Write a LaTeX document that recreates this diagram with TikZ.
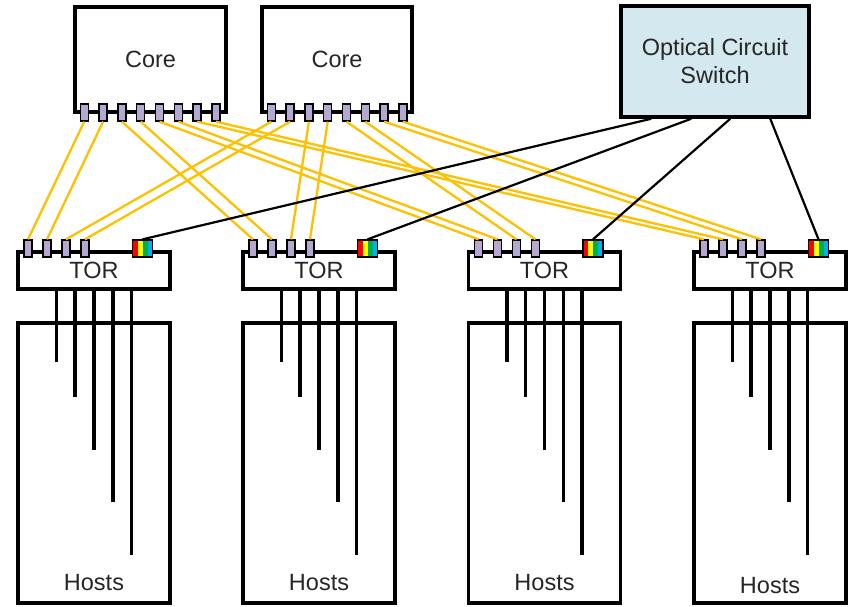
\documentclass[tikz,border=0pt]{standalone}
\usepackage{fontspec}
\setmainfont{Liberation Sans}
\usetikzlibrary{calc}
\definecolor{portfill}{HTML}{B4A7D0}
\definecolor{ocsfill}{HTML}{D3E9EF}
\definecolor{wire}{HTML}{FFC000}
\definecolor{txt}{HTML}{262626}
\definecolor{rbred}{HTML}{FF0000}
\definecolor{rbyel}{HTML}{FFFF00}
\definecolor{rbgrn}{HTML}{00B050}
\definecolor{rbblu}{HTML}{00B0F0}
\begin{document}
\begin{tikzpicture}[x=1pt,y=-1pt,
  box/.style={draw,line width=3.5pt,rectangle,inner sep=0pt},
  port/.style={draw,line width=1.3pt,fill=portfill,rectangle,minimum width=8pt,minimum height=17pt,inner sep=0pt},
  rainbow/.style={draw,line width=1.3pt,rectangle,minimum width=20pt,minimum height=17pt,inner sep=0pt,
    path picture={
      \foreach \c [count=\i from 0] in {rbred,rbyel,rbgrn,rbblu}{
        \fill[\c] ($(path picture bounding box.north west)!{\i/4}!(path picture bounding box.north east)$)
          rectangle ($(path picture bounding box.south west)!{(\i+1)/4}!(path picture bounding box.south east)$);}
    }},
  lbl/.style={font=\fontsize{23.5}{28}\selectfont,text=txt},
  ywire/.style={draw=wire,line width=2.3pt},
  owire/.style={draw=black,line width=2.2pt},
  hwire/.style={draw=black,line width=3.5pt}]
\useasboundingbox (0,0) rectangle (848,606);

% core switches
\node[box,lbl,minimum width=151pt,minimum height=105pt] (core1) at (150.5,59.5) {Core};
\node[box,lbl,minimum width=150pt,minimum height=105pt] (core2) at (337,59.5) {Core};
% optical circuit switch
\node[box,lbl,fill=ocsfill,align=center,minimum width=188pt,minimum height=111pt] (ocs) at (715,61.5) {Optical Circuit\\Switch};

% core ports
\foreach \c/\l in {1/75,2/262}{
  \foreach \k in {1,...,8}{
    \node[port] (c\c p\k) at ({\l+9.3+18.8*(\k-1)},112.5) {};
  }
}

% hosts, TORs, ports
\foreach \i/\cx/\hy in {1/94/583,2/319/583,3/544.5/583,4/770/586}{
  \node[box,minimum width=152pt,minimum height=280pt] (hosts\i) at (\cx,463) {};
  \node[lbl] (hl\i) at (\cx,\hy) {Hosts};
  \node[box,lbl,minimum width=152pt,minimum height=37pt] (tor\i) at (\cx,270.5) {TOR};
  \foreach \k in {1,...,4}{
    \node[port] (t\i p\k) at ({\cx-66+19*(\k-1)},248.5) {};
  }
  \node[rainbow] (r\i) at ({\cx+48.5},248.5) {};
  \foreach \o/\len in {-37.6/71,-18.8/106,0/159,18.8/211,37.6/264}{
    \draw[hwire] ([xshift=\o pt]tor\i.south) -- ++(0,\len);
  }
}

% electrical links core -> TOR
\draw[ywire] (c1p1.south) -- (t1p1.north);
\draw[ywire] (c1p2.south) -- (t1p2.north);
\draw[ywire] (c1p3.south) -- (t2p1.north);
\draw[ywire] (c1p4.south) -- (t2p2.north);
\draw[ywire] (c1p5.south) -- (t3p1.north);
\draw[ywire] (c1p6.south) -- (t3p2.north);
\draw[ywire] (c1p7.south) -- (t4p1.north);
\draw[ywire] (c1p8.south) -- (t4p2.north);
\draw[ywire] (c2p1.south) -- (t1p3.north);
\draw[ywire] (c2p2.south) -- (t1p4.north);
\draw[ywire] (c2p3.south) -- (t2p3.north);
\draw[ywire] (c2p4.south) -- (t2p4.north);
\draw[ywire] (c2p5.south) -- (t3p3.north);
\draw[ywire] (c2p6.south) -- (t3p4.north);
\draw[ywire] (c2p7.south) -- (t4p3.north);
\draw[ywire] (c2p8.south) -- (t4p4.north);

% optical links
\coordinate (o1) at ([xshift=32pt]ocs.south west);
\coordinate (o2) at ([xshift=72pt]ocs.south west);
\coordinate (o3) at ([xshift=111pt]ocs.south west);
\coordinate (o4) at ([xshift=151pt]ocs.south west);
\foreach \i in {1,...,4}{
  \draw[owire] (o\i) -- (r\i.north);
}
\end{tikzpicture}
\end{document}
